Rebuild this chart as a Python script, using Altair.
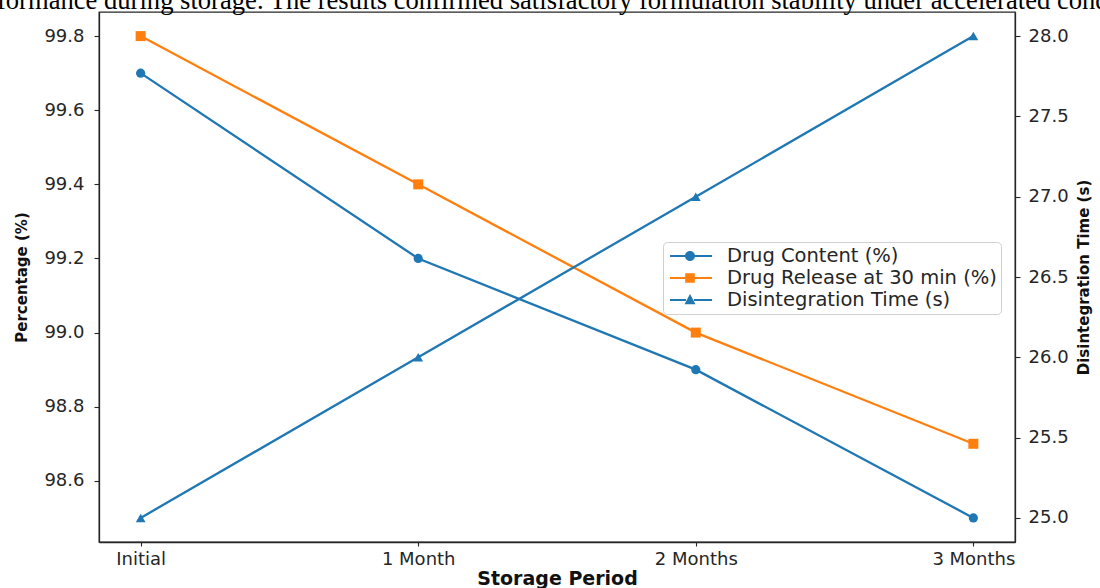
import json

import altair as alt
import pandas as pd

# ---- data -------------------------------------------------------------
periods = ["Initial", "1 Month", "2 Months", "3 Months"]
drug_content = [99.7, 99.2, 98.9, 98.5]
drug_release = [99.8, 99.4, 99.0, 98.7]
disintegration = [25.0, 26.0, 27.0, 28.0]

series_names = ["Drug Content (%)", "Drug Release at 30 min (%)", "Disintegration Time (s)"]
series_colors = ["#1f77b4", "#ff7f0e", "#1f77b4"]

left_ticks = [98.6, 98.8, 99.0, 99.2, 99.4, 99.6, 99.8]
right_ticks = [25.0, 25.5, 26.0, 26.5, 27.0, 27.5, 28.0]

top_line = ["performance during storage. The results confirmed satisfactory "
            "formulation stability under accelerated conditions."]

rows = []
for name, vals in zip(series_names, [drug_content, drug_release, disintegration]):
    for i, v in enumerate(vals):
        rows.append({"idx": i, "period": periods[i], "series": name, "value": v})
df = pd.DataFrame(rows)

left_df = df[df.series != series_names[2]]
right_df = df[df.series == series_names[2]]


def padded(vals, frac=0.05):
    lo, hi = min(vals), max(vals)
    span = hi - lo
    return [lo - frac * span, hi + frac * span]


FONT = "DejaVu Sans"
INK = "#262626"

# ---- shared encodings ---------------------------------------------------
x_enc = alt.X(
    "idx:Q",
    scale=alt.Scale(domain=[-0.15, 3.15], nice=False, zero=False),
    axis=alt.Axis(
        values=list(range(len(periods))),
        labelExpr=f"{json.dumps(periods)}[datum.value]",
        title="Storage Period",
        titleFontWeight="bold",
        titleFontSize=19,
        titlePadding=1,
        labelFontSize=18,
        labelPadding=4,
        tickSize=4,
        grid=False,
    ),
)

color_scale = alt.Scale(domain=series_names, range=series_colors)
color_plain = alt.Color("series:N", scale=color_scale, legend=None)

y_left = alt.Y(
    "value:Q",
    scale=alt.Scale(domain=padded(drug_content + drug_release), nice=False, zero=False),
    axis=alt.Axis(
        orient="left",
        values=left_ticks,
        format=".1f",
        title="Percentage (%)",
        titleFontWeight="bold",
        titleFontSize=15,
        titlePadding=14,
        labelFontSize=18,
        labelPadding=10,
        tickSize=5,
        grid=False,
    ),
)

y_right = alt.Y(
    "value:Q",
    scale=alt.Scale(domain=padded(disintegration), nice=False, zero=False),
    axis=alt.Axis(
        orient="right",
        values=right_ticks,
        format=".1f",
        title="Disintegration Time (s)",
        titleAngle=270,
        titleBaseline="top",
        titleFontWeight="bold",
        titleFontSize=15,
        titlePadding=8,
        labelFontSize=18,
        labelPadding=8,
        tickSize=5,
        grid=False,
    ),
)

# legend glyphs: a short line segment with the series marker on it
seg = "M-0.7,-0.1L0.9,-0.1L0.9,0.1L-0.7,0.1Z M1.7,-0.1L3.5,-0.1L3.5,0.1L1.7,0.1Z"
legend_paths = [
    seg + " M1.8,0A0.5,0.5 0 1,1 0.8,0A0.5,0.5 0 1,1 1.8,0Z",
    seg + " M0.82,-0.48L1.78,-0.48L1.78,0.48L0.82,0.48Z",
    seg + " M1.3,-0.6L1.85,0.42L0.75,0.42Z",
]

legend_props = dict(
    title=None,
    orient="none",
    legendX=564,
    legendY=230,
    labelFont=FONT,
    labelFontSize=19.5,
    labelColor=INK,
    labelOffset=40,
    labelLimit=500,
    symbolSize=400,
    symbolStrokeWidth=0,
    symbolOpacity=1,
    rowPadding=2,
    padding=4,
    strokeColor="#d0d0d0",
    cornerRadius=4,
    fillColor="rgba(255,255,255,0.85)",
)

# legend carrier: draws nothing itself, only supplies the legend entries
legend_layer = alt.Chart(left_df).transform_filter("false").mark_point(
    filled=True, opacity=1
).encode(
    x=x_enc,
    y=y_left,
    color=alt.Color("series:N", scale=color_scale, legend=alt.Legend(**legend_props)),
    shape=alt.Shape(
        "series:N",
        scale=alt.Scale(domain=series_names, range=legend_paths),
        legend=alt.Legend(**legend_props),
    ),
)

# ---- left axis: percentages --------------------------------------------
lines_left = alt.Chart(left_df).mark_line(strokeWidth=2.3).encode(
    x=x_enc, y=y_left, color=color_plain
)
pts_content = alt.Chart(df[df.series == series_names[0]]).mark_point(
    shape="circle", filled=True, opacity=1, size=85
).encode(x=x_enc, y=y_left, color=color_plain)
pts_release = alt.Chart(df[df.series == series_names[1]]).mark_point(
    shape="square", filled=True, opacity=1, size=100
).encode(x=x_enc, y=y_left, color=color_plain)

heading = alt.Chart(pd.DataFrame({"t": top_line})).mark_text(
    font="Liberation Serif", fontSize=26.6, color="#000000", align="left", baseline="alphabetic"
).encode(x=alt.value(-136), y=alt.value(-3), text="t:N")

left_group = alt.layer(legend_layer, lines_left, pts_content, pts_release, heading)

# ---- right axis: disintegration time -----------------------------------
line_right = alt.Chart(right_df).mark_line(strokeWidth=2.3).encode(
    x=x_enc, y=y_right, color=color_plain
)
pts_dis = alt.Chart(right_df).mark_point(
    shape="triangle-up", filled=True, opacity=1, size=95
).encode(x=x_enc, y=y_right, color=color_plain)

right_group = alt.layer(line_right, pts_dis)

chart = (
    alt.layer(left_group, right_group)
    .resolve_scale(y="independent")
    .properties(
        width=916,
        height=530,
        autosize=alt.AutoSizeParams(type="none"),
        padding={"left": 99, "top": 12, "right": 85, "bottom": 46},
        background="white",
    )
    .configure_view(stroke=INK, strokeWidth=1.3)
    .configure_axis(
        labelFont=FONT,
        titleFont=FONT,
        labelColor=INK,
        titleColor="#111111",
        domainColor=INK,
        domainWidth=1.3,
        tickColor=INK,
        tickWidth=1.1,
    )
)

chart.save("out.html", embed_options={"renderer": "svg", "actions": False})
